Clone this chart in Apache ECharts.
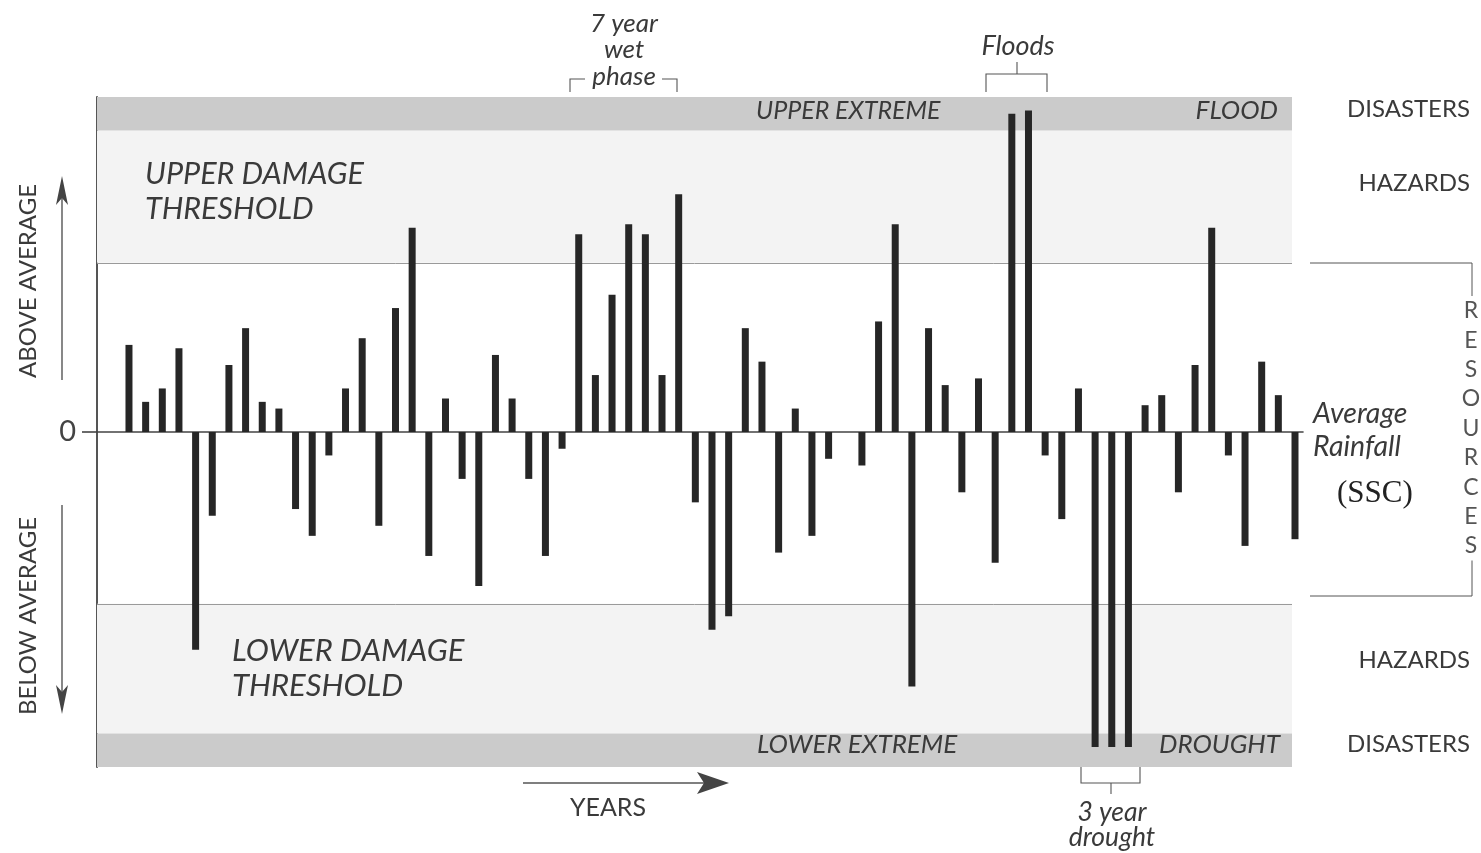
<!DOCTYPE html>
<html>
<head>
<meta charset="utf-8">
<script src="https://cdn.jsdelivr.net/npm/echarts@6/dist/echarts.min.js"></script>
<style>
html,body{margin:0;padding:0;background:#fff;}
#chart{width:1481px;height:853px;}
</style>
</head>
<body>
<div id="chart"></div>
<script>
// ---- data (rainfall departure from average, arbitrary units; +/-100 = chart edge) ----
const years = Array.from({length: 71}, (_, i) => i);
const rainfall = [26,9,13,25,-65,-25,20,31,9,7,
  -23,-31,-7,13,28,-28,37,61,-37,10,
  -14,-46,23,10,-14,-37,-5,59,17,41,
  62,59,17,71,-21,-59,-55,31,21,-36,
  7,-31,-8,0,-10,33,62,-76,31,14,
  -18,16,-39,95,96,-7,-26,13,-94,-94,
  -94,8,11,-18,20,61,-7,-34,21,11,-32];
const upperThreshold = 50.5;
const lowerThreshold = -51.3;
const upperExtreme = 90;
const lowerExtreme = -90;
const yTicks = [0];

const xMin = -1.92, xMax = 70.48, zoneEnd = 69.82;
const ink = '#262626', txt = '#3a3a3a';
const font = 'Lato, "Open Sans", sans-serif';

const chart = echarts.init(document.getElementById('chart'));

function T(x, y, text, opt) {
  return {
    type: 'text', x: x, y: y, z: 100,
    style: Object.assign({text: text, fill: txt, font: 'italic 26px ' + font, textAlign: 'left', textVerticalAlign: 'middle'}, opt || {})
  };
}
function L(points, w) {
  return {type: 'polyline', z: 100, shape: {points: points}, style: {stroke: '#555', lineWidth: w || 1.3, fill: null}};
}
function P(points) {
  return {type: 'polygon', z: 100, shape: {points: points}, style: {fill: '#444'}};
}

chart.setOption({
  animation: false,
  backgroundColor: '#fff',
  grid: {left: 97, top: 97, width: 1206, height: 670},
  xAxis: {
    type: 'value', min: xMin, max: xMax,
    axisLine: {show: true, onZero: true, lineStyle: {color: '#444', width: 1.6}},
    axisTick: {show: false}, axisLabel: {show: false}, splitLine: {show: false}
  },
  yAxis: {
    type: 'value', min: -100, max: 100,
    axisLine: {show: true, onZero: false, lineStyle: {color: '#555', width: 2}},
    axisTick: {show: true, customValues: yTicks, length: 15, lineStyle: {color: '#444', width: 1.6}},
    axisLabel: {show: true, customValues: yTicks, fontSize: 29, color: '#444', fontFamily: font, margin: 21},
    splitLine: {show: false}
  },
  series: [{
    type: 'bar',
    data: years.map((y, i) => [y, rainfall[i]]),
    barWidth: 7,
    clip: false,
    itemStyle: {color: ink},
    z: 5,
    markArea: {
      silent: true,
      z: 1,
      data: [
        [{xAxis: xMin, yAxis: upperThreshold, itemStyle: {color: '#f3f3f3'}}, {xAxis: zoneEnd, yAxis: upperExtreme}],
        [{xAxis: xMin, yAxis: lowerExtreme, itemStyle: {color: '#f3f3f3'}}, {xAxis: zoneEnd, yAxis: lowerThreshold}],
        [{xAxis: xMin, yAxis: upperExtreme, itemStyle: {color: '#cbcbcb'}}, {xAxis: zoneEnd, yAxis: 100}],
        [{xAxis: xMin, yAxis: -100, itemStyle: {color: '#cbcbcb'}}, {xAxis: zoneEnd, yAxis: lowerExtreme}]
      ]
    },
    markLine: {
      silent: true, symbol: 'none', z: 2,
      label: {show: false},
      lineStyle: {color: '#9a9a9a', width: 1, type: 'solid'},
      data: [
        [{coord: [xMin, upperThreshold]}, {coord: [zoneEnd, upperThreshold]}],
        [{coord: [xMin, lowerThreshold]}, {coord: [zoneEnd, lowerThreshold]}]
      ]
    }
  }],
  graphic: [
    // zone labels
    T(145, 174, 'UPPER DAMAGE', {font: 'italic 30.5px ' + font}),
    T(145, 209, 'THRESHOLD', {font: 'italic 30.5px ' + font}),
    T(232, 651, 'LOWER DAMAGE', {font: 'italic 31px ' + font}),
    T(232, 686, 'THRESHOLD', {font: 'italic 31px ' + font}),
    T(756, 111, 'UPPER EXTREME', {font: 'italic 25px ' + font}),
    T(1278, 111, 'FLOOD', {font: 'italic 26px ' + font, textAlign: 'right'}),
    T(757, 745, 'LOWER EXTREME', {font: 'italic 26px ' + font}),
    T(1280, 745, 'DROUGHT', {font: 'italic 26px ' + font, textAlign: 'right'}),
    // right side labels
    T(1470, 109, 'DISASTERS', {font: '24px ' + font, textAlign: 'right'}),
    T(1470, 183, 'HAZARDS', {font: '24px ' + font, textAlign: 'right'}),
    T(1470, 660, 'HAZARDS', {font: '24px ' + font, textAlign: 'right'}),
    T(1470, 744, 'DISASTERS', {font: '24px ' + font, textAlign: 'right'}),
    T(1313, 414, 'Average', {font: 'italic 28.5px ' + font}),
    T(1313, 447, 'Rainfall', {font: 'italic 28.5px ' + font}),
    T(1337, 494, '(SSC)', {font: '31px "Liberation Serif", serif', fill: '#222'}),
    // resources bracket
    L([[1310, 263], [1472, 263], [1472, 596], [1310, 596]], 1),
    {type: 'text', x: 1471, y: 296, z: 110, style: {text: 'R\nE\nS\nO\nU\nR\nC\nE\nS', fill: '#555', font: '23px ' + font, textAlign: 'center', textVerticalAlign: 'top', lineHeight: 29.4, backgroundColor: '#fff', padding: [0, 1]}},
    // left labels and arrows
    {type: 'text', x: 28, y: 281, z: 100, rotation: Math.PI / 2, style: {text: 'ABOVE AVERAGE', fill: txt, font: '24px ' + font, textAlign: 'center', textVerticalAlign: 'middle'}},
    {type: 'text', x: 28, y: 616, z: 100, rotation: Math.PI / 2, style: {text: 'BELOW AVERAGE', fill: txt, font: '24px ' + font, textAlign: 'center', textVerticalAlign: 'middle'}},
    L([[62, 380], [62, 195]], 1.4),
    P([[62, 176], [56, 205], [62, 198], [68, 205]]),
    L([[62, 505], [62, 695]], 1.4),
    P([[62, 714], [56, 685], [62, 692], [68, 685]]),
    // YEARS arrow
    L([[523, 783], [705, 783]], 1.6),
    P([[729, 783], [697, 772], [704, 783], [697, 794]]),
    T(608, 808, 'YEARS', {font: '25px ' + font, textAlign: 'center'}),
    // 7 year wet phase
    T(624, 24, '7 year', {font: 'italic 26px ' + font, textAlign: 'center'}),
    T(624, 50, 'wet', {font: 'italic 26px ' + font, textAlign: 'center'}),
    T(624, 77, 'phase', {font: 'italic 26px ' + font, textAlign: 'center'}),
    L([[570, 92], [570, 79], [585, 79]], 1.1),
    L([[662, 79], [677, 79], [677, 92]], 1.1),
    // floods
    T(1018, 46, 'Floods', {font: 'italic 27px ' + font, textAlign: 'center'}),
    L([[986, 92], [986, 74], [1047, 74], [1047, 92]], 1.1),
    L([[1017, 74], [1017, 62]], 1.1),
    // 3 year drought
    L([[1081, 767], [1081, 783], [1140, 783], [1140, 767]], 1.1),
    L([[1111, 783], [1111, 794]], 1.1),
    T(1112, 812, '3 year', {font: 'italic 26.5px ' + font, textAlign: 'center'}),
    T(1112, 837, 'drought', {font: 'italic 26.5px ' + font, textAlign: 'center'})
  ]
});
</script>
</body>
</html>
